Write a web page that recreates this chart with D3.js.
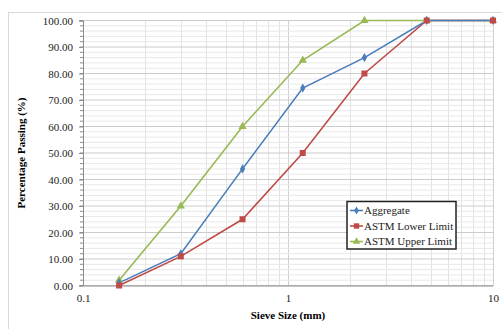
<!DOCTYPE html>
<html>
<head>
<meta charset="utf-8">
<script src="https://cdn.jsdelivr.net/npm/d3@7"></script>
<style>
  body { margin: 0; background: #fff; }
  text { font-family: "Liberation Serif", "DejaVu Serif", serif; }
</style>
</head>
<body>
<svg id="chart" width="502" height="329"></svg>
<script>
var sieveSizes = [0.15, 0.3, 0.6, 1.18, 2.36, 4.75, 10];
var aggregate = [1, 12, 44, 74.5, 86, 100, 100];
var lowerLimit = [0, 11, 25, 50, 80, 100, 100];
var upperLimit = [2, 30, 60, 85, 100, 100, 100];
var seriesNames = ["Aggregate", "ASTM Lower Limit", "ASTM Upper Limit"];
var xTicks = [0.1, 1, 10];
var yTicks = [0, 10, 20, 30, 40, 50, 60, 70, 80, 90, 100];

var colors = ["#4a7ebb", "#be4b48", "#98b954"];
var shapes = [d3.symbolDiamond, d3.symbolSquare, d3.symbolTriangle];
var sizes = [24, 36, 30];

var svg = d3.select("#chart");

// outer chart border
svg.append("rect")
  .attr("x", 8.5).attr("y", 12.5)
  .attr("width", 510).attr("height", 330)
  .attr("fill", "#fff").attr("stroke", "#d9d9d9");

var plotLeft = 83, plotRight = 493, plotTop = 20.5, plotBottom = 285.5;

var xScale = d3.scaleLog().domain([0.1, 10]).range([plotLeft, plotRight]);
var yScale = d3.scaleLinear().domain([0, 100]).range([plotBottom, plotTop]);

// vertical log grid
var xMinor = [];
[0.1, 1].forEach(function(d){
  for (var k = 1; k <= 10; k++) xMinor.push(d * k);
});
svg.append("g").selectAll("line")
  .data(xMinor)
  .enter().append("line")
  .attr("x1", function(d){ return Math.round(xScale(d)) + 0.5; })
  .attr("x2", function(d){ return Math.round(xScale(d)) + 0.5; })
  .attr("y1", plotTop).attr("y2", plotBottom)
  .attr("stroke", function(d){ return (Math.abs(d-1)<1e-9 || Math.abs(d-10)<1e-9) ? "#d0d0d0" : "#e3e3e3"; })
  .attr("stroke-width", 1);

// horizontal grid, minor every 2
var yMinor = d3.range(0, 101, 2);
svg.append("g").selectAll("line")
  .data(yMinor)
  .enter().append("line")
  .attr("x1", plotLeft).attr("x2", plotRight)
  .attr("y1", function(d){ return yScale(d); })
  .attr("y2", function(d){ return yScale(d); })
  .attr("stroke", function(d){ return d % 10 === 0 ? "#cccccc" : "#e8e8e8"; })
  .attr("stroke-width", 1);

// y axis
var yAxis = d3.axisLeft(yScale)
  .tickValues(yTicks)
  .tickFormat(d3.format(".2f"))
  .tickSize(4)
  .tickPadding(6);
var gy = svg.append("g").attr("transform", "translate(" + plotLeft + ",0)").call(yAxis);
gy.select(".domain").attr("stroke", "#8c8c8c");
gy.selectAll(".tick line").attr("stroke", "#8c8c8c");
gy.selectAll("text").attr("font-size", 11).attr("fill", "#222")
  .style("font-family", "Liberation Serif");
// minor y ticks
svg.append("g").selectAll("line")
  .data(yMinor)
  .enter().append("line")
  .attr("x1", plotLeft - 3).attr("x2", plotLeft)
  .attr("y1", function(d){ return yScale(d); })
  .attr("y2", function(d){ return yScale(d); })
  .attr("stroke", "#8c8c8c");

// x axis
var xAxis = d3.axisBottom(xScale)
  .tickValues(xTicks)
  .tickFormat(function(d){ return String(d); })
  .tickSize(0)
  .tickPadding(9);
var gx = svg.append("g").attr("transform", "translate(0," + plotBottom + ")").call(xAxis);
gx.select(".domain").attr("stroke", "#8c8c8c");
gx.selectAll("text").attr("font-size", 11).attr("fill", "#222")
  .style("font-family", "Liberation Serif");

// series
var allSeries = [aggregate, lowerLimit, upperLimit];
var line = d3.line()
  .x(function(d, i){ return xScale(sieveSizes[i]); })
  .y(function(d){ return yScale(d); });

[2, 1, 0].forEach(function(s){
  svg.append("path")
    .datum(allSeries[s])
    .attr("d", line)
    .attr("fill", "none")
    .attr("stroke", colors[s])
    .attr("stroke-width", 1.6);
});
[2, 0, 1].forEach(function(s){
  svg.append("g").selectAll("path")
    .data(allSeries[s])
    .enter().append("path")
    .attr("d", d3.symbol().type(shapes[s]).size(sizes[s]))
    .attr("transform", function(d, i){
      return "translate(" + xScale(sieveSizes[i]) + "," + yScale(d) + ")";
    })
    .attr("fill", colors[s]);
});

// axis titles
svg.append("text")
  .attr("x", 288).attr("y", 319)
  .attr("text-anchor", "middle")
  .attr("font-size", 11).attr("font-weight", "bold")
  .text("Sieve Size (mm)");
svg.append("text")
  .attr("transform", "translate(25,153) rotate(-90)")
  .attr("text-anchor", "middle")
  .attr("font-size", 11).attr("font-weight", "bold")
  .text("Percentage Passing (%)");

// legend
var lg = svg.append("g");
lg.append("rect")
  .attr("x", 347).attr("y", 201.5)
  .attr("width", 109).attr("height", 47.5)
  .attr("fill", "#fff").attr("stroke", "#222").attr("stroke-width", 1.5);
seriesNames.forEach(function(name, i){
  var yy = 210.5 + i * 15.5;
  lg.append("line")
    .attr("x1", 350).attr("x2", 363)
    .attr("y1", yy).attr("y2", yy)
    .attr("stroke", colors[i]).attr("stroke-width", 1.6);
  lg.append("path")
    .attr("d", d3.symbol().type(shapes[i]).size(sizes[i] * 0.8))
    .attr("transform", "translate(356.5," + yy + ")")
    .attr("fill", colors[i]);
  lg.append("text")
    .attr("x", 364).attr("y", yy + 3.8)
    .attr("font-size", 11).attr("fill", "#222")
    .text(name);
});
</script>
</body>
</html>
